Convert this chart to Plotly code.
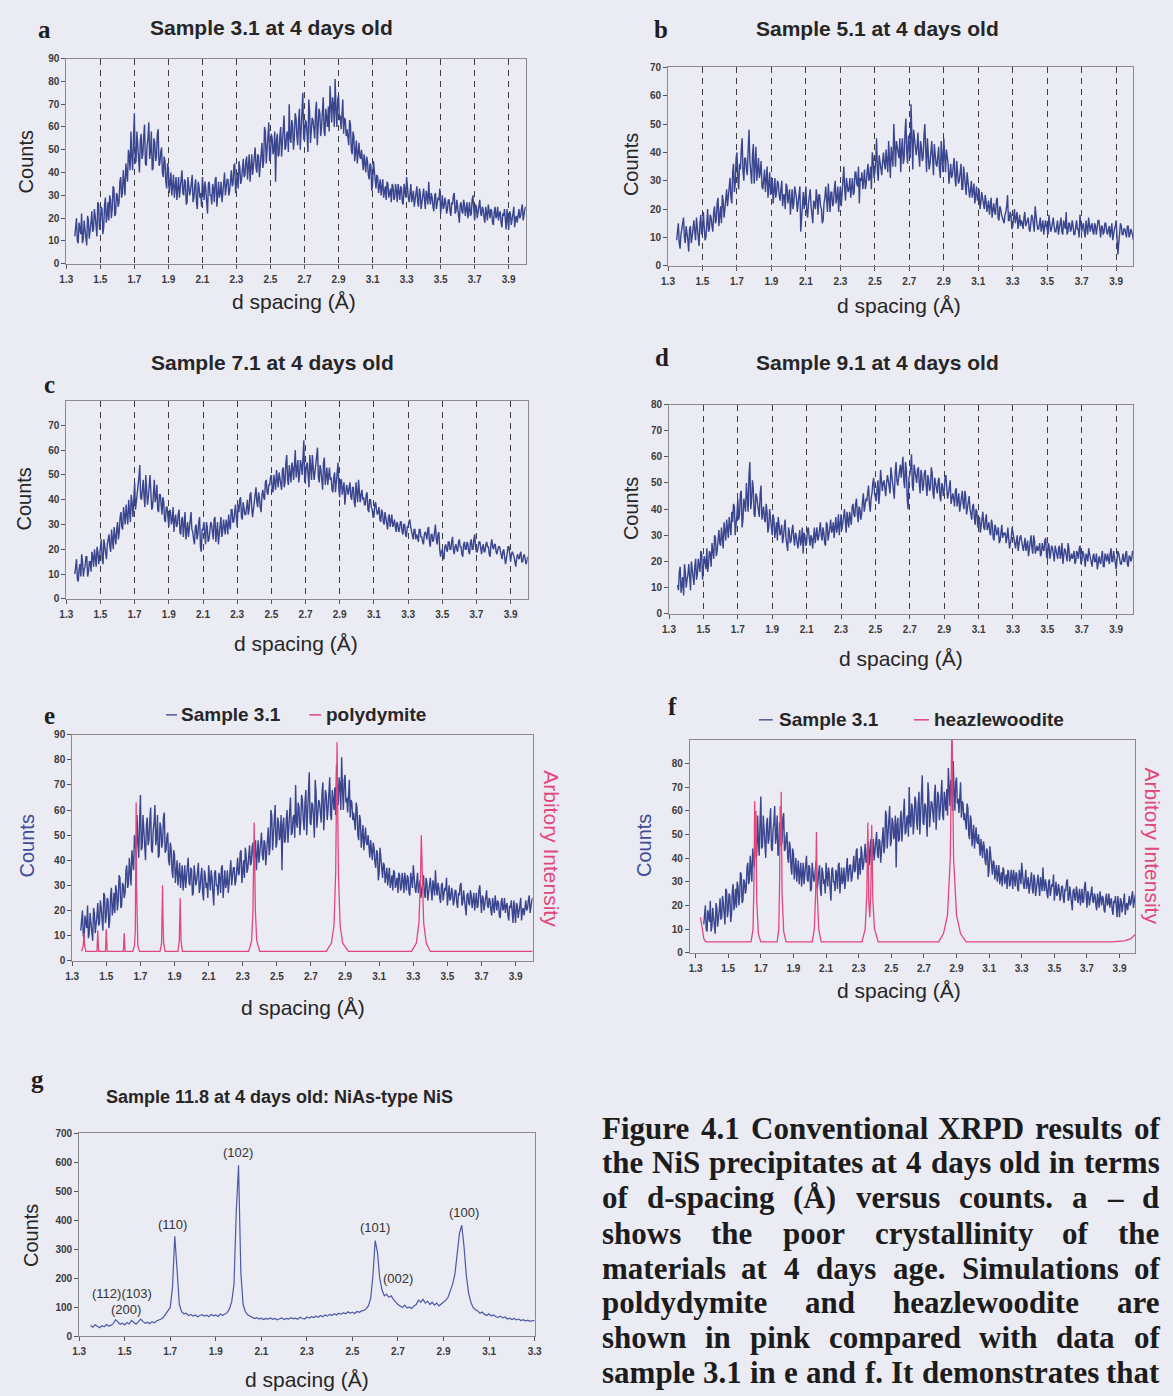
import plotly.graph_objects as go

W, H = 1173, 1396
BG = "#ebebf4"

# ---------------- data ----------------
# Counts read at d = 1.350, 1.360, ... 4.000 (main) and at the midpoints 1.355 ... 3.995 (mid)
D_START = 1.35
D_STEP = 0.01

sample_3_1 = [
    12, 20, 9, 16, 22, 11, 15, 8, 19, 14,
    23, 15, 21, 12, 26, 18, 24, 16, 29, 21,
    19, 28, 24, 33, 22, 30, 27, 38, 31, 35,
    44, 36, 47, 58, 41, 66, 45, 52, 40, 57,
    48, 61, 43, 55, 46, 58, 42, 53, 47, 59,
    44, 51, 38, 45, 33, 42, 36, 30, 39, 34,
    28, 38, 33, 41, 30, 36, 27, 35, 32, 39,
    29, 37, 24, 34, 31, 38, 28, 33, 22, 36,
    30, 35, 27, 38, 33, 29, 36, 31, 40, 34,
    37, 32, 41, 35, 44, 38, 33, 42, 37, 46,
    39, 47, 42, 36, 48, 44, 51, 40, 47, 43,
    53, 45, 58, 49, 62, 47, 55, 50, 36, 57,
    48, 60, 54, 65, 51, 58, 70, 53, 61, 55,
    64, 52, 68, 57, 75, 54, 62, 49, 67, 58,
    63, 55, 71, 58, 66, 60, 73, 56, 64, 69,
    78, 62, 70, 81, 60, 74, 65, 68, 57, 63,
    59, 52, 61, 48, 56, 50, 44, 53, 46, 42,
    48, 40, 45, 37, 43, 35, 41, 33, 38, 34,
    30, 37, 32, 28, 35, 31, 27, 34, 29, 32,
    35, 28, 33, 26, 31, 38, 29, 33, 27, 32,
    28, 34, 25, 31, 27, 33, 24, 30, 36, 26,
    29, 23, 31, 26, 28, 22, 30, 25, 27, 24,
    28, 21, 26, 31, 23, 25, 18, 27, 22, 26,
    24, 20, 27, 22, 30, 19, 25, 23, 28, 21,
    24, 18, 22, 26, 20, 23, 17, 25, 21, 19,
    23, 16, 21, 18, 24, 15, 22, 19, 25, 20,
    18, 24, 21, 26, 22, 25,
]
sample_3_1_mid = [
    17, 10, 18, 13, 9, 19, 12, 21, 11, 18,
    14, 24, 17, 27, 15, 25, 13, 26, 18, 27,
    30, 20, 34, 21, 31, 25, 36, 29, 41, 30,
    38, 50, 41, 47, 55, 44, 58, 43, 54, 46,
    56, 44, 52, 62, 49, 41, 55, 45, 57, 43,
    49, 40, 47, 36, 44, 31, 40, 35, 29, 38,
    36, 29, 40, 31, 37, 26, 38, 30, 35, 27,
    34, 27, 36, 29, 25, 33, 36, 27, 35, 30,
    26, 33, 37, 25, 36, 31, 27, 38, 30, 37,
    30, 39, 34, 43, 31, 40, 45, 35, 44, 38,
    45, 37, 48, 43, 39, 50, 42, 48, 38, 52,
    42, 60, 44, 54, 45, 57, 48, 58, 54, 47,
    56, 47, 62, 50, 57, 49, 55, 63, 50, 66,
    56, 63, 50, 70, 55, 63, 57, 72, 53, 64,
    57, 67, 52, 68, 56, 65, 58, 68, 60, 58,
    66, 73, 60, 68, 72, 63, 59, 72, 64, 56,
    54, 63, 50, 58, 45, 54, 49, 47, 50, 41,
    42, 47, 39, 44, 32, 45, 37, 39, 31, 37,
    35, 29, 34, 36, 29, 33, 35, 28, 35, 27,
    30, 34, 27, 35, 29, 32, 27, 35, 30, 25,
    32, 27, 33, 24, 30, 28, 32, 26, 29, 31,
    25, 30, 24, 29, 33, 27, 24, 29, 22, 28,
    23, 27, 30, 22, 28, 20, 26, 23, 28, 21,
    27, 23, 21, 28, 24, 26, 20, 26, 22, 25,
    20, 25, 19, 21, 24, 18, 23, 20, 25, 22,
    18, 22, 24, 15, 20, 23, 17, 22, 16, 21,
    23, 20, 24, 19, 24,
]

sample_5_1 = [
    9, 15, 6, 13, 17, 8, 12, 5, 14, 10,
    16, 9, 14, 7, 18, 12, 15, 10, 20, 13,
    17, 12, 21, 16, 24, 19, 15, 23, 20, 27,
    25, 31, 22, 36, 29, 40, 27, 34, 45, 30,
    38, 32, 48, 33, 39, 29, 42, 35, 31, 37,
    27, 34, 30, 24, 33, 28, 22, 31, 26, 29,
    23, 30, 25, 20, 28, 24, 18, 27, 22, 26,
    19, 25, 12, 23, 20, 28, 17, 24, 21, 15,
    22, 27, 18, 25, 20, 16, 24, 21, 29, 19,
    26, 22, 30, 24, 19, 28, 25, 35, 23, 29,
    27, 24, 31, 26, 33, 28, 22, 30, 27, 34,
    29, 36, 31, 27, 38, 33, 45, 30, 36, 32,
    40, 34, 37, 44, 31, 39, 50, 35, 42, 38,
    33, 45, 38, 52, 36, 41, 57, 34, 44, 39,
    47, 35, 42, 38, 50, 33, 40, 36, 44, 32,
    39, 35, 42, 31, 37, 45, 33, 38, 29, 36,
    32, 38, 28, 34, 30, 36, 27, 31, 25, 29,
    24, 30, 26, 22, 28, 24, 20, 26, 22, 25,
    19, 23, 21, 17, 22, 18, 24, 16, 20, 17,
    15, 19, 25, 16, 18, 14, 20, 17, 13, 18,
    16, 13, 19, 15, 17, 12, 18, 14, 21, 15,
    13, 17, 14, 11, 16, 13, 18, 12, 15, 14,
    12, 16, 13, 17, 11, 14, 19, 12, 15, 13,
    14, 11, 16, 13, 18, 12, 15, 10, 14, 17,
    12, 15, 11, 14, 13, 16, 10, 14, 12, 15,
    11, 14, 12, 9, 13, 16, 4, 12, 14, 11,
    13, 10, 14, 11, 12, 9,
]
sample_5_1_mid = [
    13, 8, 11, 16, 10, 14, 9, 13, 8, 15,
    12, 17, 10, 15, 11, 19, 9, 16, 12, 18,
    14, 19, 15, 22, 14, 21, 25, 17, 24, 21,
    30, 24, 33, 26, 38, 31, 36, 41, 33, 38,
    34, 41, 37, 29, 43, 34, 30, 38, 33, 28,
    31, 26, 35, 28, 25, 31, 27, 24, 30, 25,
    27, 21, 25, 29, 22, 27, 23, 20, 28, 24,
    22, 28, 18, 26, 24, 19, 22, 27, 18, 23,
    20, 24, 25, 21, 15, 22, 28, 19, 23, 26,
    21, 27, 22, 28, 25, 21, 30, 27, 31, 26,
    31, 29, 25, 33, 29, 35, 31, 33, 30, 27,
    33, 30, 35, 40, 31, 37, 33, 39, 34, 37,
    36, 41, 33, 38, 42, 35, 38, 44, 39, 45,
    41, 36, 47, 40, 46, 38, 43, 48, 40, 42,
    39, 44, 37, 46, 41, 45, 34, 41, 38, 43,
    36, 40, 34, 44, 33, 38, 41, 36, 34, 31,
    35, 31, 37, 29, 33, 27, 35, 29, 33, 26,
    27, 24, 29, 25, 23, 27, 22, 24, 20, 23,
    21, 18, 24, 20, 19, 23, 17, 21, 18, 16,
    18, 21, 16, 19, 13, 17, 15, 19, 16, 14,
    15, 17, 14, 16, 13, 15, 17, 12, 16, 13,
    15, 12, 16, 13, 14, 11, 15, 13, 17, 12,
    14, 11, 15, 12, 16, 13, 11, 15, 12, 16,
    11, 15, 13, 10, 15, 14, 12, 16, 11, 14,
    14, 12, 15, 11, 16, 12, 14, 11, 15, 12,
    13, 10, 15, 12, 14, 10, 8, 15, 11, 13,
    11, 14, 10, 13, 11,
]

sample_7_1 = [
    10, 16, 7, 14, 18, 9, 13, 17, 11, 15,
    19, 13, 17, 21, 14, 20, 16, 24, 18, 22,
    26, 19, 25, 29, 22, 31, 27, 35, 28, 33,
    38, 30, 36, 42, 33, 47, 39, 44, 54, 40,
    48, 37, 45, 41, 50, 36, 44, 39, 46, 35,
    42, 34, 39, 31, 37, 29, 35, 32, 27, 34,
    30, 36, 26, 33, 29, 24, 31, 28, 35, 27,
    22, 30, 26, 33, 19, 28, 25, 31, 23, 27,
    30, 24, 33, 27, 22, 29, 25, 32, 26, 30,
    34, 28, 36, 31, 38, 29, 35, 41, 32, 37,
    34, 40, 36, 43, 33, 39, 45, 37, 41, 35,
    44, 40, 48, 42, 46, 50, 43, 47, 52, 45,
    49, 44, 53, 47, 58, 46, 51, 55, 48, 60,
    52, 47, 56, 50, 64, 49, 55, 45, 53, 58,
    48, 54, 61, 47, 52, 44, 57, 50, 46, 53,
    49, 43, 51, 47, 55, 41, 48, 44, 38, 46,
    42, 47, 40, 45, 37, 43, 48, 39, 44, 41,
    38, 43, 35, 40, 36, 33, 39, 34, 37, 31,
    35, 30, 33, 28, 34, 31, 29, 32, 27, 30,
    28, 31, 26, 30, 25, 29, 32, 27, 24, 28,
    26, 23, 28, 25, 22, 27, 24, 29, 21, 26,
    24, 30, 22, 27, 17, 20, 16, 22, 19, 23,
    20, 25, 18, 22, 19, 24, 21, 17, 23, 20,
    22, 18, 24, 20, 26, 19, 21, 23, 18, 22,
    19, 23, 21, 17, 24, 20, 22, 18, 21, 19,
    16, 20, 14, 18, 21, 15, 19, 17, 13, 18,
    16, 19, 15, 18, 14, 17,
]
sample_7_1_mid = [
    14, 8, 12, 9, 15, 12, 17, 9, 15, 11,
    17, 20, 13, 19, 17, 24, 14, 21, 16, 25,
    21, 28, 20, 25, 28, 24, 33, 29, 37, 30,
    34, 40, 31, 39, 45, 36, 42, 49, 41, 47,
    41, 50, 38, 47, 43, 37, 48, 41, 36, 42,
    36, 41, 32, 37, 33, 36, 30, 37, 32, 29,
    34, 27, 32, 25, 35, 30, 25, 33, 28, 24,
    29, 24, 31, 21, 28, 31, 22, 29, 24, 31,
    27, 32, 23, 31, 26, 33, 27, 29, 32, 26,
    30, 36, 31, 35, 33, 38, 40, 33, 39, 34,
    39, 34, 42, 37, 36, 44, 39, 43, 37, 42,
    41, 47, 43, 46, 49, 44, 50, 44, 49, 51,
    46, 52, 45, 55, 48, 54, 47, 53, 58, 49,
    56, 50, 54, 59, 47, 54, 50, 58, 48, 53,
    51, 58, 49, 54, 48, 55, 46, 53, 50, 48,
    44, 49, 43, 52, 44, 48, 42, 47, 41, 44,
    45, 41, 45, 39, 47, 39, 44, 42, 40, 38,
    42, 36, 40, 37, 33, 38, 36, 35, 32, 36,
    31, 35, 30, 33, 29, 34, 30, 28, 31, 27,
    31, 27, 30, 26, 29, 31, 29, 25, 28, 24,
    25, 28, 25, 23, 26, 26, 28, 23, 26, 23,
    27, 24, 26, 20, 19, 17, 21, 20, 23, 20,
    23, 20, 21, 20, 23, 21, 18, 22, 20, 23,
    19, 23, 20, 24, 21, 19, 23, 20, 21, 19,
    22, 21, 18, 22, 21, 22, 19, 20, 21, 17,
    19, 17, 16, 21, 16, 18, 18, 15, 16, 17,
    18, 15, 17, 16, 15,
]

sample_9_1 = [
    11, 16, 8, 14, 19, 10, 15, 12, 20, 14,
    18, 13, 21, 16, 23, 17, 20, 25, 19, 23,
    27, 21, 29, 24, 32, 26, 30, 35, 28, 33,
    37, 30, 35, 41, 33, 44, 38, 47, 36, 42,
    50, 39, 58, 43, 48, 37, 45, 40, 46, 36,
    41, 35, 39, 33, 37, 30, 36, 32, 28, 34,
    31, 27, 33, 29, 24, 31, 28, 34, 26, 30,
    25, 32, 28, 23, 30, 27, 33, 26, 29, 31,
    27, 33, 29, 35, 28, 31, 26, 34, 30, 36,
    32, 29, 37, 33, 30, 38, 34, 40, 31, 36,
    39, 34, 42, 37, 44, 35, 40, 38, 46, 41,
    43, 49, 39, 46, 52, 44, 48, 42, 55, 47,
    51, 45, 53, 48, 56, 50, 44, 58, 49, 54,
    52, 60, 48, 55, 40, 53, 61, 47, 54, 50,
    56, 46, 53, 49, 55, 45, 51, 48, 54, 44,
    50, 46, 52, 43, 49, 47, 53, 44, 48, 42,
    46, 41, 48, 44, 39, 45, 42, 47, 38, 43,
    40, 36, 42, 34, 39, 35, 31, 37, 33, 36,
    32, 35, 30, 34, 28, 33, 31, 27, 32, 29,
    30, 27, 33, 25, 29, 31, 26, 28, 24, 29,
    27, 24, 29, 26, 22, 28, 25, 30, 23, 26,
    25, 22, 27, 24, 29, 21, 26, 23, 25, 20,
    24, 21, 26, 23, 19, 25, 22, 27, 20, 23,
    22, 19, 24, 21, 26, 20, 23, 18, 22, 25,
    21, 18, 23, 20, 17, 22, 19, 24, 18, 21,
    23, 19, 25, 20, 22, 17, 24, 21, 19, 23,
    20, 24, 18, 22, 21, 23,
]
sample_9_1_mid = [
    9, 18, 12, 7, 16, 13, 19, 9, 17, 11,
    21, 15, 18, 24, 13, 22, 17, 16, 24, 18,
    23, 30, 22, 28, 27, 33, 25, 31, 36, 29,
    31, 39, 42, 30, 38, 36, 46, 33, 44, 39,
    45, 53, 40, 51, 38, 46, 42, 37, 49, 40,
    36, 42, 31, 40, 34, 38, 29, 35, 37, 30,
    34, 29, 36, 25, 33, 27, 32, 29, 31, 27,
    29, 26, 33, 31, 26, 32, 29, 30, 25, 33,
    31, 28, 32, 30, 33, 27, 35, 28, 33, 31,
    35, 33, 31, 38, 34, 32, 37, 34, 39, 33,
    36, 41, 38, 42, 38, 41, 36, 43, 39, 44,
    47, 42, 44, 50, 46, 43, 51, 46, 49, 50,
    48, 50, 51, 46, 53, 47, 54, 51, 52, 57,
    55, 51, 58, 44, 52, 56, 49, 57, 51, 55,
    50, 55, 47, 54, 49, 53, 47, 56, 46, 52,
    47, 51, 45, 50, 45, 52, 48, 46, 51, 45,
    44, 47, 41, 46, 42, 47, 40, 45, 41, 45,
    38, 41, 37, 40, 33, 37, 34, 39, 32, 38,
    34, 31, 36, 29, 34, 30, 33, 28, 34, 31,
    31, 29, 30, 27, 33, 28, 25, 30, 27, 30,
    26, 28, 24, 28, 25, 30, 23, 28, 25, 24,
    27, 23, 25, 28, 22, 27, 21, 26, 22, 26,
    22, 25, 21, 27, 22, 24, 20, 25, 22, 21,
    24, 20, 23, 25, 19, 24, 21, 23, 20, 23,
    19, 22, 20, 23, 19, 20, 22, 18, 23, 20,
    21, 23, 20, 24, 19, 21, 23, 19, 22, 20,
    23, 19, 22, 20, 24,
]

# sample 11.8 read at d = 1.35, 1.36, ... 3.30
sample_11_8 = [
    38, 32, 40, 35, 30, 37, 33, 41, 36, 39,
    44, 58, 50, 42, 46, 40, 48, 43, 55, 47,
    42, 50, 60, 52, 45, 49, 44, 51, 47, 53,
    56, 60, 66, 78, 90, 100, 170, 345, 230, 110,
    85, 78, 80, 72, 76, 70, 74, 68, 72, 75,
    70, 73, 68, 76, 71, 74, 69, 77, 72, 78,
    82, 95, 120, 180, 430, 590, 220, 110, 85, 75,
    70, 66, 62, 65, 60, 63, 58, 62, 60, 64,
    59, 62, 57, 61, 64, 58, 62, 60, 65, 61,
    63, 59, 66, 62, 60, 67, 63, 68, 65, 70,
    66, 72, 68, 74, 70, 76, 72, 78, 74, 80,
    76, 82, 78, 85, 80, 84, 79, 86, 83, 88,
    90, 95, 105, 130, 210, 330, 290, 200, 160, 140,
    145, 135, 140, 128, 118, 110, 105, 100, 108, 98,
    102, 96, 105, 110, 125, 118, 128, 115, 122, 110,
    118, 108, 115, 105, 112, 118, 125, 135, 155, 180,
    215, 280, 355, 383, 310, 210, 150, 118, 100, 92,
    88, 80, 84, 76, 72, 78, 70, 74, 68, 66,
    70, 64, 67, 60, 63, 58, 62, 57, 60, 55,
    58, 53, 56, 52, 55, 54,
]

polydymite_d = [
    1.355, 1.365, 1.369, 1.373, 1.380,
    1.445, 1.450, 1.455,
    1.495, 1.500, 1.505,
    1.600, 1.605, 1.610,
    1.655, 1.665, 1.670, 1.673, 1.675, 1.677, 1.680, 1.685, 1.695,
    1.815, 1.824, 1.828, 1.830, 1.832, 1.836, 1.845,
    1.920, 1.928, 1.933, 1.938, 1.946,
    2.335, 2.352, 2.360, 2.367, 2.374, 2.382, 2.400,
    2.790, 2.820, 2.835, 2.845, 2.853, 2.861, 2.871, 2.886, 2.920,
    3.290, 3.318, 3.333, 3.342, 3.347, 3.352, 3.361, 3.376, 3.400,
    4.000,
]
polydymite_i = [
    3.7, 6, 11, 6, 3.7,
    3.7, 12, 3.7,
    3.7, 12.5, 3.7,
    3.7, 11, 3.7,
    3.7, 6, 12, 30, 63, 30, 12, 6, 3.7,
    3.7, 7, 18, 30, 18, 7, 3.7,
    3.7, 8, 25, 8, 3.7,
    3.7, 8, 20, 55, 20, 8, 3.7,
    3.7, 7, 14, 35, 87, 35, 14, 7, 3.7,
    3.7, 7, 15, 32, 50, 32, 15, 7, 3.7,
    3.7,
]

heazlewoodite_d = [
    1.330, 1.340, 1.350, 1.362,
    1.640, 1.652, 1.658, 1.662, 1.666, 1.670, 1.675, 1.685, 1.700,
    1.800, 1.810, 1.815, 1.819, 1.822, 1.825, 1.830, 1.840, 1.855,
    2.015, 2.028, 2.036, 2.041, 2.046, 2.055, 2.070,
    2.320, 2.340, 2.350, 2.356, 2.362, 2.368, 2.374, 2.380, 2.387, 2.397, 2.420,
    2.790, 2.820, 2.845, 2.862, 2.872, 2.882, 2.900, 2.925, 2.960,
    3.850, 3.930, 3.970, 4.000,
]
heazlewoodite_i = [
    15, 10, 6, 4.6,
    4.6, 10, 30, 64, 40, 60, 22, 8, 4.6,
    4.6, 10, 30, 62, 45, 68, 25, 9, 4.6,
    4.6, 10, 25, 51, 25, 10, 4.6,
    4.6, 10, 25, 55, 22, 15, 25, 54, 22, 10, 4.6,
    4.6, 8, 16, 40, 100, 40, 16, 8, 4.6,
    4.6, 5, 6, 8,
]

d_ticks = [1.3, 1.5, 1.7, 1.9, 2.1, 2.3, 2.5, 2.7, 2.9, 3.1, 3.3, 3.5, 3.7, 3.9]
d_tick_labels = ["1.3", "1.5", "1.7", "1.9", "2.1", "2.3", "2.5", "2.7",
                 "2.9", "3.1", "3.3", "3.5", "3.7", "3.9"]
g_ticks = [1.3, 1.5, 1.7, 1.9, 2.1, 2.3, 2.5, 2.7, 2.9, 3.1, 3.3]
g_tick_labels = ["1.3", "1.5", "1.7", "1.9", "2.1", "2.3", "2.5", "2.7",
                 "2.9", "3.1", "3.3"]

hkl_labels = ["(102)", "(110)", "(101)", "(100)", "(002)", "(112)(103)", "(200)"]
hkl_d = [1.998, 1.712, 2.60, 2.99, 2.70, 1.487, 1.504]
hkl_counts = [632, 386, 376, 427, 201, 147, 92]

panel_titles = ["Sample 3.1 at 4 days old", "Sample 5.1 at 4 days old",
                "Sample 7.1 at 4 days old", "Sample 9.1 at 4 days old",
                "Sample 11.8 at 4 days old: NiAs-type NiS"]

caption_lines = [
    "Figure 4.1 Conventional XRPD results of",
    "the NiS precipitates at 4 days old in terms",
    "of d-spacing (Å) versus counts. a – d",
    "shows the poor crystallinity of the",
    "materials at 4 days age. Simulations of",
    "poldydymite and heazlewoodite are",
    "shown in pink compared with data of",
    "sample 3.1 in e and f. It demonstrates that",
]

# ---------------- styling ----------------
BLUE = "#39458e"
BLUE_G = "#4a58a6"
PINK = "#e3467a"
FRAME = "#8a8a8a"
TICKC = "#3a3a3a"
SANS = "Liberation Sans, Arial, sans-serif"
SERIF = "Liberation Serif, Times New Roman, serif"


def px(x):
    return x / W


def py(y):
    return 1 - y / H


def merged(main, mid):
    """Interleave the readings at the grid points and at the midpoints."""
    xs, ys = [], []
    for i, v in enumerate(main):
        xs.append(round(D_START + D_STEP * i, 4))
        ys.append(v)
        if i < len(mid):
            xs.append(round(D_START + D_STEP * (i + 0.5), 4))
            ys.append(mid[i])
    return xs, ys


def plain(main):
    return [round(D_START + D_STEP * i, 4) for i in range(len(main))], main


fig = go.Figure()
annotations = []
shapes = []

panels = [
    dict(box=(60, 53, 525, 260), xr=[1.3, 4.0], yr=[0, 90], yt=list(range(0, 91, 10)), grid=True,
         xt=d_ticks, xl=d_tick_labels),
    dict(box=(669, 62, 1140, 262), xr=[1.3, 4.0], yr=[0, 70], yt=list(range(0, 71, 10)), grid=True,
         xt=d_ticks, xl=d_tick_labels),
    dict(box=(60, 398, 527, 598), xr=[1.3, 4.0], yr=[0, 80], yt=list(range(0, 71, 10)), grid=True,
         xt=d_ticks, xl=d_tick_labels),
    dict(box=(670, 402, 1140, 613), xr=[1.3, 4.0], yr=[0, 80], yt=list(range(0, 81, 10)), grid=True,
         xt=d_ticks, xl=d_tick_labels),
    dict(box=(66, 735, 532, 963), xr=[1.3, 4.0], yr=[0, 90], yt=list(range(0, 91, 10)), grid=False,
         xt=d_ticks, xl=d_tick_labels),
    dict(box=(691, 740, 1142, 955), xr=[1.264, 3.997], yr=[0, 90], yt=list(range(0, 81, 10)), grid=False,
         xt=d_ticks, xl=d_tick_labels),
    dict(box=(73, 1137, 534, 1342), xr=[1.3, 3.3], yr=[0, 700], yt=list(range(0, 701, 100)), grid=False,
         xt=g_ticks, xl=g_tick_labels),
]

series = [
    merged(sample_3_1, sample_3_1_mid),
    merged(sample_5_1, sample_5_1_mid),
    merged(sample_7_1, sample_7_1_mid),
    merged(sample_9_1, sample_9_1_mid),
    merged(sample_3_1, sample_3_1_mid),
    merged(sample_3_1, sample_3_1_mid),
    plain(sample_11_8),
]

layout_axes = {}
for i, p in enumerate(panels, start=1):
    l, t, r, b = p["box"]
    xa = "xaxis" if i == 1 else f"xaxis{i}"
    ya = "yaxis" if i == 1 else f"yaxis{i}"
    xs = "x" if i == 1 else f"x{i}"
    ys = "y" if i == 1 else f"y{i}"
    layout_axes[xa] = dict(
        domain=[px(l), px(r)], anchor=ys, range=p["xr"],
        tickmode="array", tickvals=p["xt"], ticktext=p["xl"],
        tickfont=dict(family=SANS, size=10, color=TICKC, weight="bold"),
        showline=True, linecolor=FRAME, linewidth=1, mirror=True,
        ticks="outside", ticklen=4, tickcolor="#555555", tickwidth=1,
        ticklabelstandoff=2,
        showgrid=p["grid"], gridcolor="#3c3c3c", gridwidth=1, griddash="6px,5px",
        zeroline=False, fixedrange=True,
    )
    layout_axes[ya] = dict(
        domain=[py(b), py(t)], anchor=xs, range=p["yr"],
        tickmode="array", tickvals=p["yt"],
        tickfont=dict(family=SANS, size=10, color=TICKC, weight="bold"),
        showline=True, linecolor=FRAME, linewidth=1, mirror=True,
        ticks="outside", ticklen=4, tickcolor="#555555", tickwidth=1,
        showgrid=False, zeroline=False, fixedrange=True,
    )
    xv, yv = series[i - 1]
    fig.add_trace(go.Scatter(
        x=xv, y=yv, mode="lines", xaxis=xs, yaxis=ys,
        line=dict(color=BLUE_G if i == 7 else BLUE, width=1.4 if i < 7 else 1.2),
        hoverinfo="skip", showlegend=False,
    ))

fig.add_trace(go.Scatter(x=polydymite_d, y=polydymite_i, mode="lines", xaxis="x5", yaxis="y5",
                         line=dict(color=PINK, width=1.3), showlegend=False, hoverinfo="skip"))
fig.add_trace(go.Scatter(x=heazlewoodite_d, y=heazlewoodite_i, mode="lines", xaxis="x6", yaxis="y6",
                         line=dict(color=PINK, width=1.3), showlegend=False, hoverinfo="skip"))


def ann(text, x, y, size, color="#222222", family=SANS, angle=0, xanchor="center", bold=False):
    annotations.append(dict(
        text=f"<b>{text}</b>" if bold else text, x=px(x), y=py(y), xref="paper", yref="paper",
        showarrow=False, xanchor=xanchor, yanchor="middle", textangle=angle,
        font=dict(family=family, size=size, color=color)))


# panel letters
for letter, (lx, ly) in zip("abcdefg", [(38, 24), (662, 24), (43, 382), (663, 355),
                                          (43, 716), (674, 707), (31, 1083)]):
    ann(letter, lx, ly, 25, "#1e1e1e", SERIF, bold=True)

# panel titles
for title, (tx, ty), sz in zip(panel_titles, [(268, 22), (881, 23), (269, 360), (881, 360), (276, 1100)],
                               [21, 21, 21, 21, 18]):
    ann(title, tx, ty, sz, "#262626", SANS, bold=True)

# y titles
for (cx, cy), col in zip([(19, 157), (631, 160), (17, 497), (631, 507), (20, 847), (644, 847), (25, 1240)],
                         ["#262626"] * 4 + ["#3f4c96", "#3f4c96", "#262626"]):
    ann("Counts", cx, cy, 20, col, SANS, angle=-90)

# x titles
for (cx, cy) in [(290, 298), (903, 302), (292, 643), (905, 658), (300, 1010), (903, 993), (304, 1385)]:
    ann("d spacing (Å)", cx, cy, 21, "#262626", SANS)

# right titles e / f
ann("Arbitory Intensity", 551, 850, 21, PINK, SANS, angle=90)
ann("Arbitory Intensity", 1159, 847, 21, PINK, SANS, angle=90)

# legends e / f
for (x0, x1, tx, label, col, yy) in [
    (161, 172, 174, "Sample 3.1", "#4e5b8e", 715), (306, 318, 321, "polydymite", PINK, 715),
    (761, 775, 779, "Sample 3.1", "#4e5b8e", 720), (918, 933, 936, "heazlewoodite", PINK, 720),
]:
    shapes.append(dict(type="line", xref="paper", yref="paper", x0=px(x0), x1=px(x1),
                       y0=py(yy), y1=py(yy), line=dict(color=col, width=1.5)))
    ann(label, tx, yy, 19, "#262626", SANS, xanchor="left", bold=True)

# hkl labels in panel g
for lab, dx, cy in zip(hkl_labels, hkl_d, hkl_counts):
    annotations.append(dict(text=lab, x=dx, y=cy, xref="x7", yref="y7", showarrow=False,
                            font=dict(family=SANS, size=13, color="#333333")))

# caption, justified word by word (Times-Bold advance widths)
TB = {' ': 250, '(': 333, ')': 333, ',': 250, '-': 333, '.': 250, ':': 333, '–': 500, 'Å': 722,
      'A': 722, 'C': 722, 'D': 722, 'F': 611, 'I': 389, 'N': 722, 'P': 611, 'R': 722, 'S': 556, 'X': 722,
      'a': 500, 'b': 556, 'c': 444, 'd': 556, 'e': 444, 'f': 333, 'g': 500, 'h': 556, 'i': 278,
      'j': 333, 'k': 556, 'l': 278, 'm': 833, 'n': 556, 'o': 500, 'p': 556, 'q': 556, 'r': 444,
      's': 389, 't': 333, 'u': 556, 'v': 500, 'w': 722, 'x': 500, 'y': 500, 'z': 444}
CAP_SIZE = 31
CAP_L, CAP_R = 600, 1164
cap_y = [1132, 1167, 1202, 1238, 1273, 1308, 1343, 1378]


def wwidth(w):
    return sum(TB.get(c, 500) for c in w) / 1000 * CAP_SIZE


for line, yy in zip(caption_lines, cap_y):
    words = line.split(" ")
    widths = [wwidth(w) for w in words]
    gap = (CAP_R - CAP_L - sum(widths)) / (len(words) - 1)
    xx = CAP_L
    for w, wd in zip(words, widths):
        ann(w, xx, yy, CAP_SIZE, "#1c1c1c", SERIF, xanchor="left", bold=True)
        xx += wd + gap

fig.update_layout(
    width=W, height=H, margin=dict(l=0, r=0, t=0, b=0),
    paper_bgcolor=BG, plot_bgcolor=BG, showlegend=False,
    annotations=annotations, shapes=shapes, **layout_axes,
)

fig.write_html("out.html")
